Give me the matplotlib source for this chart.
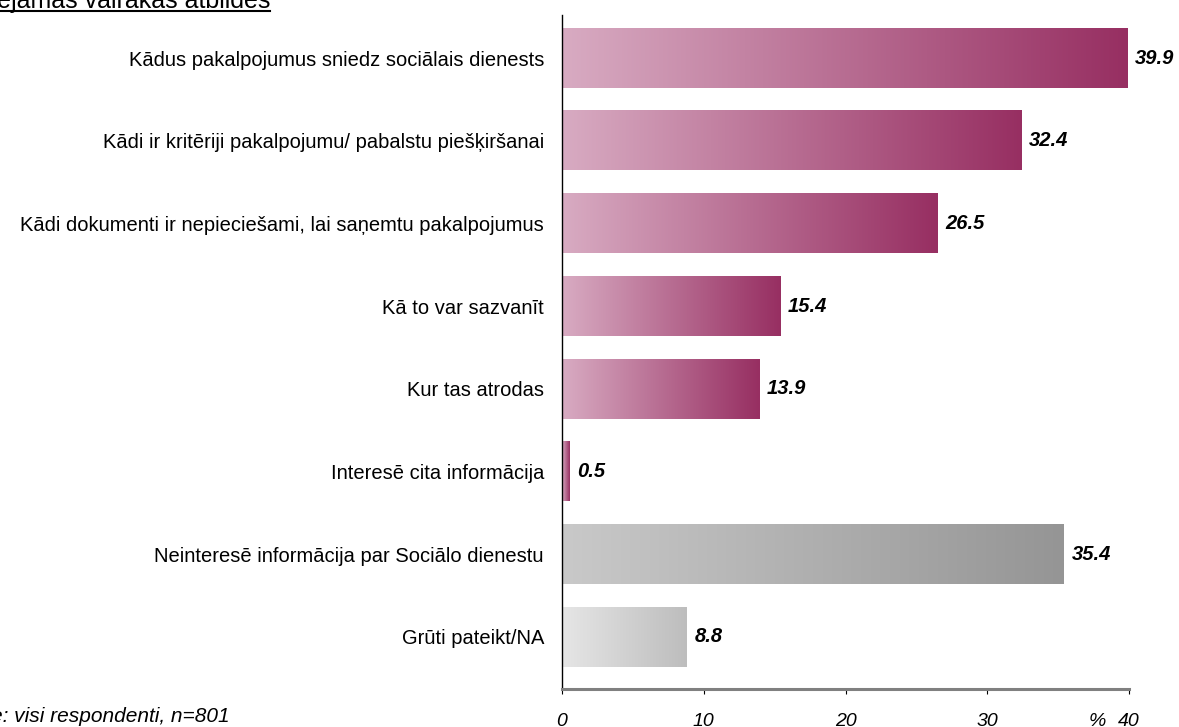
import numpy as np
import matplotlib
matplotlib.use('Agg')
import matplotlib.pyplot as plt
from matplotlib.colors import LinearSegmentedColormap
from matplotlib.lines import Line2D

plt.rcParams['font.family'] = ['Liberation Sans', 'DejaVu Sans']

labels = ['Kādus pakalpojumus sniedz sociālais dienests',
          'Kādi ir kritēriji pakalpojumu/ pabalstu piešķiršanai',
          'Kādi dokumenti ir nepieciešami, lai saņemtu pakalpojumus',
          'Kā to var sazvanīt',
          'Kur tas atrodas',
          'Interesē cita informācija',
          'Neinteresē informācija par Sociālo dienestu',
          'Grūti pateikt/NA']
values = [39.9, 32.4, 26.5, 15.4, 13.9, 0.5, 35.4, 8.8]
grad = [('#d8abc2', '#972f62')] * 6 + [('#c9c9c9', '#959595'), ('#e6e6e6', '#bdbdbd')]
xticks = [0, 10, 20, 30, 40]
xticklabels = ['0', '10', '20', '30', '40']

fig = plt.figure(figsize=(11.79, 7.27), dpi=100)
ax = fig.add_axes([562 / 1179, 1 - 689 / 727, (1129 - 562) / 1179, (689 - 15) / 727])

h = 0.72
for i, (v, c) in enumerate(zip(values, grad)):
    cmap = LinearSegmentedColormap.from_list('g%d' % i, list(c))
    g = np.linspace(0, 1, 256).reshape(1, -1)
    ax.imshow(g, cmap=cmap, aspect='auto', extent=[0, v, i + h / 2, i - h / 2],
              interpolation='bilinear', zorder=2)
    ax.annotate('%.1f' % v, (v, i), xytext=(5.5, 0), textcoords='offset points',
                ha='left', va='center', fontsize=14.5, fontweight='bold',
                fontstyle='italic')

ax.set_xlim(0, 40)
ax.set_ylim(7.63, -0.52)
ax.set_yticks(range(len(labels)))
ax.set_yticklabels(labels, fontsize=14.5)
ax.tick_params(axis='y', length=0, pad=13)
ax.set_xticks(xticks)
ax.set_xticklabels(xticklabels, fontsize=14, fontstyle='italic')
tl, tp = 3.5, 14
ax.tick_params(axis='x', length=tl, direction='out', pad=tp, width=0.8)
# "%" sign in front of the last tick label, same line as the tick labels
ax.annotate('%', (40, 0), xycoords=('data', 'axes fraction'), xytext=(-23, -(tl + tp)),
            textcoords='offset points', ha='center', va='top', fontsize=14,
            fontstyle='italic')

for s in ['top', 'right']:
    ax.spines[s].set_visible(False)
ax.spines['left'].set_linewidth(1.0)
ax.spines['bottom'].set_color('#808080')
ax.spines['bottom'].set_linewidth(2.2)

# title cut off at the top, underlined
fig.text(270 / 1179, 1 - 8 / 727, 'Iespējamas vairākas atbildes', ha='right',
         va='baseline', fontsize=18)
fig.add_artist(Line2D([0, 270 / 1179], [1 - 11 / 727, 1 - 11 / 727],
                      color='black', linewidth=1.5))

fig.text(230 / 1179, 1 - 717 / 727, 'Bāze: visi respondenti, n=801', ha='right',
         va='center', fontsize=15, fontstyle='italic')

fig.savefig('out.png', dpi=100)
